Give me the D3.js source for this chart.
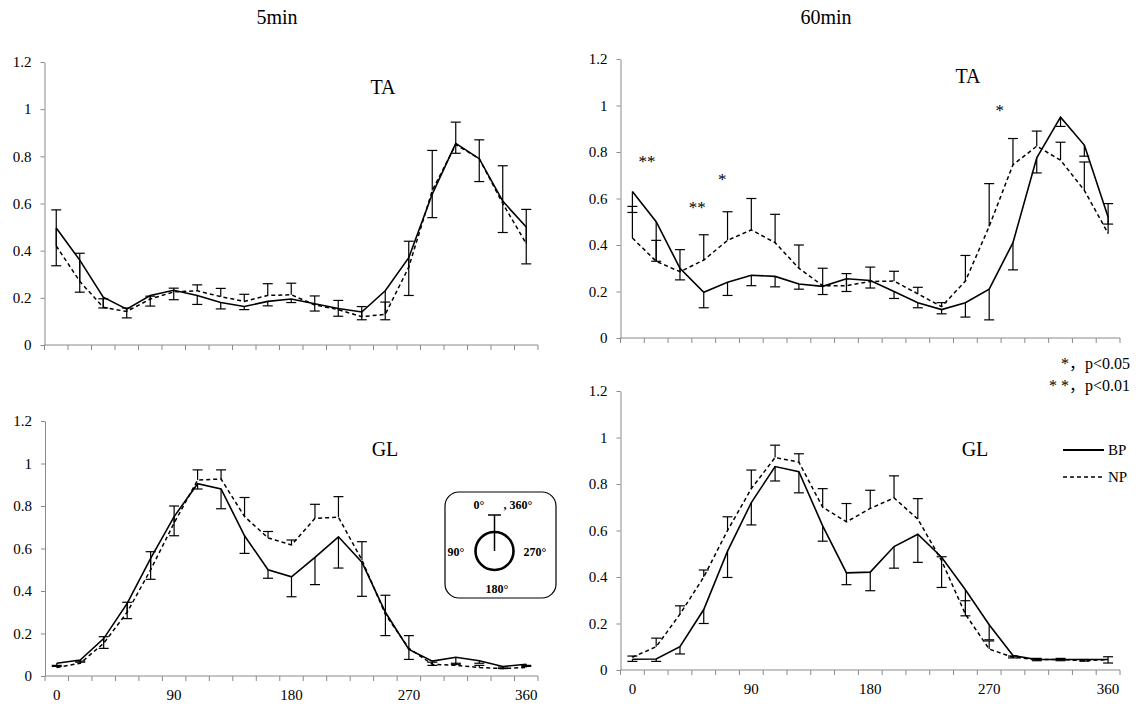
<!DOCTYPE html>
<html><head><meta charset="utf-8">
<script src="https://cdn.jsdelivr.net/npm/d3@7"></script>
<style>
body{margin:0;background:#fff}
svg{display:block}
svg text{font-family:'Liberation Serif','Times New Roman',serif !important;fill:#000}
svg text.cjk{font-family:'Liberation Serif','Noto Sans CJK JP',serif !important}
</style>
</head><body>
<svg id="c" width="1137" height="706" font-family="Liberation Serif"></svg>
<script>
// ---------- data ----------
const categories = [0,18,36,54,72,90,108,126,144,162,180,198,216,234,252,270,288,306,324,342,360];
const xTickLabels = [0,90,180,270,360];
const yTickValues = [0,0.2,0.4,0.6,0.8,1,1.2];
const columnTitles = ["5min","60min"];
const seriesNames = ["BP","NP"];
const sigNotes = ["*\uFF0Cp<0.05","* *\uFF0Cp<0.01"];

// 5min TA
const ta5BP    = [0.496,0.36,0.203,0.152,0.21,0.232,0.21,0.18,0.163,0.185,0.195,0.175,0.155,0.14,0.23,0.37,0.64,0.855,0.79,0.61,0.5];
const ta5BPerr = [0.16,0.136,0.046,0.037,0.045,0.04,0.038,0.027,0.013,0.019,0.015,0.031,0.033,0.033,0.123,0.16,0.1,0.042,0.097,0.133,0.156];
const ta5NP    = [0.42,0.27,0.16,0.142,0.195,0.225,0.23,0.205,0.185,0.21,0.213,0.17,0.15,0.12,0.13,0.33,0.655,0.85,0.79,0.6,0.43];
const ta5NPerr = [0.153,0.119,0.036,0.015,0.012,0.016,0.025,0.035,0.03,0.05,0.049,0.038,0.039,0.043,0.052,0.11,0.17,0.095,0.08,0.16,0.145];

// 60min TA
const ta60BP    = [0.63,0.5,0.3,0.197,0.24,0.27,0.265,0.232,0.222,0.255,0.247,0.2,0.152,0.122,0.152,0.21,0.41,0.775,0.95,0.83,0.52];
const ta60BPerr = [0.09,0.17,0.05,0.067,0.057,0.045,0.045,0.022,0.035,0.055,0.032,0.03,0.022,0.018,0.062,0.132,0.117,0.065,0.04,0.048,0.03];
const ta60NP    = [0.43,0.33,0.285,0.335,0.42,0.465,0.41,0.3,0.225,0.225,0.243,0.245,0.19,0.135,0.245,0.48,0.745,0.825,0.765,0.635,0.45];
const ta60NPerr = [0.136,0.09,0.095,0.109,0.123,0.135,0.122,0.1,0.075,0.052,0.062,0.042,0.028,0.017,0.11,0.184,0.113,0.065,0.077,0.122,0.128];

// 5min GL
const gl5BP    = [0.06,0.075,0.176,0.342,0.554,0.75,0.905,0.88,0.66,0.5,0.467,0.558,0.655,0.536,0.3,0.125,0.07,0.088,0.072,0.045,0.055];
const gl5BPerr = [0.015,0.01,0.046,0.072,0.099,0.09,0.025,0.093,0.083,0.04,0.094,0.128,0.147,0.161,0.11,0.047,0.02,0.033,0.012,0.01,0.01];
const gl5NP    = [0.04,0.06,0.154,0.3,0.5,0.72,0.922,0.927,0.75,0.65,0.617,0.742,0.747,0.546,0.29,0.13,0.055,0.05,0.04,0.035,0.04];
const gl5NPerr = [0.01,0.01,0.031,0.047,0.085,0.08,0.048,0.043,0.09,0.03,0.023,0.066,0.097,0.086,0.09,0.06,0.01,0.01,0.01,0.007,0.01];

// 60min GL
const gl60BP    = [0.046,0.047,0.1,0.26,0.511,0.72,0.875,0.853,0.62,0.418,0.421,0.531,0.584,0.485,0.345,0.195,0.062,0.045,0.045,0.045,0.045];
const gl60BPerr = [0.009,0.01,0.031,0.06,0.113,0.096,0.062,0.091,0.066,0.051,0.08,0.093,0.121,0.13,0.112,0.065,0.01,0.005,0.005,0.007,0.015];
const gl60NP    = [0.055,0.1,0.24,0.4,0.6,0.78,0.914,0.894,0.7,0.637,0.695,0.74,0.649,0.47,0.24,0.09,0.055,0.045,0.045,0.04,0.045];
const gl60NPerr = [0.005,0.037,0.036,0.03,0.059,0.08,0.053,0.036,0.08,0.079,0.078,0.095,0.088,0.017,0.058,0.035,0.005,0.005,0.005,0.005,0.012];

// significance markers on 60min TA: angle position, label, height
const ta60SigAngle = [11, 49, 68, 278];
const ta60SigLabel = ["**", "**", "*", "*"];
const ta60SigLevel = [0.78, 0.58, 0.70, 1.00];

// ---------- layout ----------
const svg = d3.select("#c");
const AXIS = "#8a8a8a";
const panels = [
  {label:"TA", bp:ta5BP,  bpe:ta5BPerr,  np:ta5NP,  npe:ta5NPerr,  left:44.5, right:538, top:62,  bottom:345, xlab:false, lx:383, ly:87},
  {label:"TA", bp:ta60BP, bpe:ta60BPerr, np:ta60NP, npe:ta60NPerr, left:620.5, right:1120, top:59, bottom:338, xlab:false, lx:968, ly:76, sig:true},
  {label:"GL", bp:gl5BP,  bpe:gl5BPerr,  np:gl5NP,  npe:gl5NPerr,  left:45, right:538, top:421, bottom:676, xlab:true, lx:385, ly:449},
  {label:"GL", bp:gl60BP, bpe:gl60BPerr, np:gl60NP, npe:gl60NPerr, left:620.5, right:1120, top:391, bottom:670, xlab:true, lx:975, ly:449},
];

svg.append("text").attr("x",277).attr("y",24).attr("text-anchor","middle").style("font-size","20px").text(columnTitles[0]);
svg.append("text").attr("x",826).attr("y",24).attr("text-anchor","middle").style("font-size","20px").text(columnTitles[1]);

panels.forEach(p => {
  const x = d3.scaleBand().domain(categories).range([p.left, p.right]);
  const bw = x.bandwidth();
  const cx = c => x(c) + bw/2;
  const xa = d3.scaleLinear().domain([0,360]).range([cx(0), cx(360)]);
  const y = d3.scaleLinear().domain([0,1.2]).range([p.bottom, p.top]);
  const g = svg.append("g");

  // y axis
  const ya = d3.axisLeft(y).tickValues(yTickValues).tickSize(4).tickSizeOuter(0).tickPadding(9).tickFormat(d => String(d));
  const yg = g.append("g").attr("transform", `translate(${p.left},0)`).call(ya);
  yg.attr("font-family", null).attr("font-size", null);
  yg.select(".domain").attr("stroke", AXIS);
  yg.selectAll(".tick line").attr("stroke", AXIS);
  yg.selectAll(".tick text").style("font-size","15px");

  // x axis (ticks at category boundaries)
  g.append("line").attr("x1",p.left).attr("x2",p.right).attr("y1",p.bottom).attr("y2",p.bottom).attr("stroke",AXIS);
  const bounds = categories.map(c => x(c)).concat([p.right]);
  g.selectAll(".xt").data(bounds).join("line")
    .attr("x1",d=>d).attr("x2",d=>d).attr("y1",p.bottom).attr("y2",p.bottom+5).attr("stroke",AXIS);
  if (p.xlab) {
    g.selectAll(".xl").data(xTickLabels).join("text")
      .attr("x", d => cx(d)).attr("y", p.bottom + 24).attr("text-anchor","middle")
      .style("font-size","15px").text(d => d);
  }

  // error bars: BP downward, NP upward
  const cap = 5;
  const drawErr = (vals, errs, dir) => {
    const eg = g.append("g").attr("stroke","#000").attr("stroke-width",1.2);
    categories.forEach((c,i) => {
      const y0 = y(vals[i]), y1 = y(vals[i] + dir*errs[i]);
      eg.append("line").attr("x1",cx(c)).attr("x2",cx(c)).attr("y1",y0).attr("y2",y1);
      eg.append("line").attr("x1",cx(c)-cap).attr("x2",cx(c)+cap).attr("y1",y1).attr("y2",y1);
    });
  };
  drawErr(p.bp, p.bpe, -1);
  drawErr(p.np, p.npe, 1);

  const line = d3.line().x((d,i) => cx(categories[i])).y(d => y(d));
  g.append("path").datum(p.bp).attr("d",line).attr("fill","none").attr("stroke","#000").attr("stroke-width",1.6);
  g.append("path").datum(p.np).attr("d",line).attr("fill","none").attr("stroke","#000").attr("stroke-width",1.5).attr("stroke-dasharray","4,3");

  g.append("text").attr("x",p.lx).attr("y",p.ly+7).attr("text-anchor","middle").style("font-size","20px").text(p.label);

  if (p.sig) {
    ta60SigAngle.forEach((a,i) => {
      g.append("text").attr("x", xa(a)).attr("y", y(ta60SigLevel[i]) + 10)
        .attr("text-anchor","middle").style("font-size","17px").text(ta60SigLabel[i]);
    });
  }
});

// significance legend
svg.selectAll(".sn").data(sigNotes).join("text").attr("class","cjk")
  .attr("x",1130).attr("y",(d,i)=>369+i*22).attr("text-anchor","end")
  .style("font-size","16px").text(d=>d);

// series legend
const lg = svg.append("g");
seriesNames.forEach((n,i) => {
  const yy = 450 + i*27;
  lg.append("line").attr("x1",1063).attr("x2",1104).attr("y1",yy).attr("y2",yy)
    .attr("stroke","#000").attr("stroke-width", i===0?1.8:1.5).attr("stroke-dasharray", i===0?null:"4,3");
  lg.append("text").attr("x",1108).attr("y",yy+5).style("font-size","15px").text(n);
});

// inset direction diagram
const ins = svg.append("g");
ins.append("rect").attr("x",445).attr("y",492).attr("width",111).attr("height",106).attr("rx",14)
  .attr("fill","#fff").attr("stroke","#000").attr("stroke-width",1.2);
ins.append("circle").attr("cx",494.5).attr("cy",551).attr("r",19).attr("fill","none").attr("stroke","#000").attr("stroke-width",2.6);
ins.append("line").attr("x1",494.5).attr("x2",494.5).attr("y1",551).attr("y2",515).attr("stroke","#000").attr("stroke-width",1.5);
ins.append("line").attr("x1",488).attr("x2",501).attr("y1",515).attr("y2",515).attr("stroke","#000").attr("stroke-width",1.5);
const insLabels = [["0°",479,509],[", 360°",518,509],["90°",456,556],["270°",535,556],["180°",497,593]];
insLabels.forEach(d => ins.append("text").attr("x",d[1]).attr("y",d[2]).attr("text-anchor","middle")
  .style("font-size","12px").style("font-weight","bold").text(d[0]));
</script>
</body></html>
